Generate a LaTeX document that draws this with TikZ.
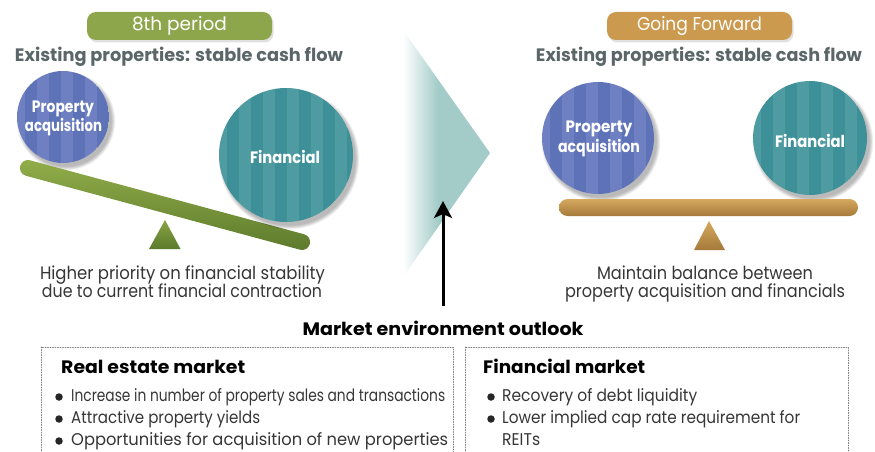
\documentclass[tikz,border=0pt]{standalone}
\usepackage{fontspec}
\usepackage{graphicx}
\setmainfont{Poppins}
\usetikzlibrary{arrows.meta}

% palette
\definecolor{pillgreen}{HTML}{8EA64B}
\definecolor{pillgold}{HTML}{CB9A4E}
\definecolor{headgray}{HTML}{5B6669}
\definecolor{bodytext}{HTML}{363636}
\definecolor{blueA}{HTML}{6E80C1}
\definecolor{blueB}{HTML}{5E72B8}
\definecolor{tealA}{HTML}{4E9BA1}
\definecolor{tealB}{HTML}{3D9097}
\definecolor{chevteal}{HTML}{A3CCC8}
\definecolor{beamgreenT}{HTML}{92AE4A}
\definecolor{beamgreenB}{HTML}{5C7A2C}
\definecolor{beamgoldT}{HTML}{D6A95E}
\definecolor{beamgoldB}{HTML}{A57A3B}
\definecolor{boxline}{HTML}{7A7A7A}

% stretch a line of text to a given width (in pt) keeping its height
\newcommand\fitw[2]{\resizebox{#1pt}{\height}{#2}}

% white-to-teal fade for the central chevron
\pgfdeclarehorizontalshading{chevfade}{100bp}{color(0bp)=(white); color(25bp)=(white);
  color(45bp)=(chevteal); color(100bp)=(chevteal)}

% striped disc with a soft shadow: x, y, radius, stripe width, colour A, colour B
\newcommand\stripedisc[6]{%
  \foreach \s in {1,...,6}{
    \fill[black, opacity=0.05] (#1+3,#2+4) circle (#3+\s*0.7-1);
  }
  \begin{scope}
    \clip (#1,#2) circle (#3);
    \foreach \k in {0,...,7}{
      \fill[#5] (#1-#3+\k*2*#4-4,#2-#3) rectangle ++(#4,2*#3);
      \fill[#6] (#1-#3+\k*2*#4+#4-4,#2-#3) rectangle ++(#4,2*#3);
    }
  \end{scope}}

\tikzset{
  pill/.style={rounded corners=9pt, minimum width=185pt, minimum height=28pt, inner sep=0pt,
    text=white, font=\fontsize{18.5}{20}\selectfont},
  heading/.style={inner sep=0pt, text=headgray, font=\bfseries\fontsize{18}{20}\selectfont},
  disclabel/.style={inner sep=0pt, text=white, font=\bfseries\fontsize{16.5}{18}\selectfont, align=center},
  disc/.style={circle, inner sep=0pt},
  body/.style={inner sep=0pt, text=bodytext, font=\fontsize{18}{20}\selectfont},
  boxtitle/.style={inner sep=0pt, text=black, font=\bfseries\fontsize{18}{20}\selectfont},
  dot/.style={circle, fill=black!85, inner sep=0pt, minimum size=7.5pt},
  item/.style={inner sep=0pt, text=bodytext, font=\fontsize{17}{20}\selectfont},
  panel/.style={draw=boxline, line width=0.9pt, dash pattern=on 0.9pt off 1.6pt, line cap=round},
}

\begin{document}
\begin{tikzpicture}[x=1pt, y=-1pt]
\useasboundingbox (0,0) rectangle (875,452);
\clip (0,0) rectangle (875,452);

% ---------- central chevron ----------
\shade[shading=chevfade] (403,30) -- (490,153) -- (403,277) -- cycle;

% ---------- left: 8th period ----------
\fill[black, opacity=0.12, rounded corners=9pt] (88.5,14.5) rectangle (273.5,42.5);
\node[pill, fill=pillgreen] (pillL) at (179.5,26) {8th period};
\node[heading, anchor=base] (headL) at (179,62) {\fitw{328}{Existing properties: stable cash flow}};

\stripedisc{63}{117}{46}{12}{blueA}{blueB}
\node[disc, minimum size=92pt] (propL) at (63,117) {};
\node[disclabel, anchor=base] (propLa) at (63,112) {\fitw{62}{Property}};
\node[disclabel, anchor=base] (propLb) at (63.5,131) {\fitw{77}{acquisition}};

% tilted beam and fulcrum
\node[rotate=-15.1, minimum width=300pt, minimum height=16pt, rounded corners=8pt, inner sep=0pt,
  top color=beamgreenT, bottom color=beamgreenB] (beamL) at (165,205) {};
\shade[top color=beamgreenT!80!beamgreenB, bottom color=beamgreenB] (149,249) -- (180.5,249) -- (165,220) -- cycle;

\stripedisc{286}{155}{67}{12}{tealA}{tealB}
\node[disc, minimum size=134pt] (finL) at (286,155) {};
\node[disclabel, anchor=base] (finLa) at (285,163) {\fitw{70}{Financial}};

\node[body, anchor=base] (noteL1) at (182.5,279) {\fitw{285}{Higher priority on financial stability}};
\node[body, anchor=base] (noteL2) at (182,297) {\fitw{280}{due to current financial contraction}};

% ---------- right: going forward ----------
\fill[black, opacity=0.12, rounded corners=9pt] (608.5,14.5) rectangle (793.5,42.5);
\node[pill, fill=pillgold] (pillR) at (699.5,26) {\fitw{125}{Going Forward}};
\node[heading, anchor=base] (headR) at (699,62) {\fitw{326}{Existing properties: stable cash flow}};

\stripedisc{598}{138}{56}{12}{blueA}{blueB}
\node[disc, minimum size=112pt] (propR) at (598,138) {};
\node[disclabel, anchor=base] (propRa) at (599,132) {\fitw{67}{Property}};
\node[disclabel, anchor=base] (propRb) at (599,152) {\fitw{82}{acquisition}};

\stripedisc{810}{138}{57}{12}{tealA}{tealB}
\node[disc, minimum size=114pt] (finR) at (810,138) {};
\node[disclabel, anchor=base] (finRa) at (810,147) {\fitw{70}{Financial}};

\node[minimum width=299pt, minimum height=17pt, rounded corners=8.5pt, inner sep=0pt,
  top color=beamgoldT, bottom color=beamgoldB] (beamR) at (708.5,207.5) {};
\shade[top color=beamgoldT, bottom color=beamgoldB] (694,250) -- (725,250) -- (709,221) -- cycle;

\node[body, anchor=base] (noteR1) at (705,279) {\fitw{216}{Maintain balance between}};
\node[body, anchor=base] (noteR2) at (705,297) {\fitw{280}{property acquisition and financials}};

% ---------- market outlook ----------
\node[boxtitle, anchor=base] (outlook) at (443,335) {\fitw{281}{Market environment outlook}};
\coordinate (arrowFoot) at (443,306);
\coordinate (arrowTip) at (443,201);
\draw[line width=3pt, black, -{Stealth[length=17pt, width=18pt, inset=4pt]}] (arrowFoot) -- (arrowTip);

\draw[panel] (41,347) rectangle (453,470);
\draw[panel] (465,347) rectangle (848,470);

\node[boxtitle, anchor=base west] (reTitle) at (61,373) {\fitw{184}{Real estate market}};
\node[dot] (reB1) at (59,397) {};
\node[item, anchor=base west] (reI1) at (71,401) {\fitw{374}{Increase in number of property sales and transactions}};
\node[dot] (reB2) at (59,419) {};
\node[item, anchor=base west] (reI2) at (71,423) {\fitw{189}{Attractive property yields}};
\node[dot] (reB3) at (59,441) {};
\node[item, anchor=base west] (reI3) at (71,445) {\fitw{377}{Opportunities for acquisition of new properties}};

\node[boxtitle, anchor=base west] (fmTitle) at (483,373) {\fitw{162}{Financial market}};
\node[dot] (fmB1) at (491,397) {};
\node[item, anchor=base west] (fmI1) at (502,401) {\fitw{195}{Recovery of debt liquidity}};
\node[dot] (fmB2) at (491,419) {};
\node[item, anchor=base west] (fmI2) at (502,423) {\fitw{298}{Lower implied cap rate requirement for}};
\node[item, anchor=base west] (fmI3) at (502,445) {\fitw{38}{REITs}};
\end{tikzpicture}
\end{document}
